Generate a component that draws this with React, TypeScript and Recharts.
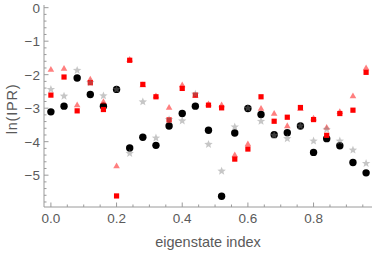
import React from 'react';
import { ScatterChart, Scatter, XAxis, YAxis } from 'recharts';

// eigenstate index positions (shared by all four series)
const xIndex = [0, 0.04, 0.08, 0.12, 0.16, 0.2, 0.24, 0.28, 0.32, 0.36, 0.4, 0.44, 0.48, 0.52, 0.56, 0.6, 0.64, 0.68, 0.72, 0.76, 0.8, 0.84, 0.88, 0.92, 0.96];

const circleVals = [-3.11, -2.94, -2.1, -2.59, -2.94, -2.44, -4.19, -3.87, -4.11, -3.53, -3.16, -2.94, -3.66, -5.63, -3.74, -3.01, -3.19, -3.79, -3.73, -3.53, -4.32, -3.91, -4.12, -4.62, -4.93];
const squareVals = [-2.61, -2.07, -3.08, -2.24, -3.04, -5.62, -1.57, -2.29, -2.66, -3.35, -2.41, -2.61, -2.91, -2.99, -4.52, -4.22, -2.66, -3.39, -3.27, -2.98, -3.34, -3.81, -3.16, -3.06, -1.93];
const triangleVals = [-1.85, -1.82, -2.91, -2.14, -2.81, -4.73, -1.55, -2.31, -2.64, -2.98, -2.31, -2.62, -2.88, -2.91, -4.4, -4.07, -3.01, -3.16, -3.53, -3.02, -3.3, -3.58, -3.11, -2.64, -1.8];
const starVals = [-2.44, -2.64, -1.87, -2.24, -2.63, -2.44, -4.35, -2.81, -3.89, -3.34, -3.38, -2.58, -4.08, -4.88, -3.56, -3, -3.39, -3.81, -3.91, -3.53, -3.98, -3.63, -3.98, -4.25, -4.65];

const xMajor = [0, 0.2, 0.4, 0.6, 0.8];
const yMajor = [0, -1, -2, -3, -4, -5];

const xTicks: number[] = [];
for (let k = 0; k <= 19; k++) xTicks.push(Math.round(k * 5) / 100);
const yTicks: number[] = [];
for (let k = 0; k <= 29; k++) yTicks.push(-Math.round(k * 20) / 100);

const toPts = (vals: number[]) => xIndex.map((x, i) => ({ x, y: vals[i] }));

const FRAME = '#9a9a9a';
const TEXT = '#5a5a5a';
const FONT = '"Liberation Sans", Arial, sans-serif';

const isMajor = (list: number[], v: number) => list.some((m) => Math.abs(m - v) < 1e-6);

const makeTick = (side: 'bottom' | 'top' | 'left' | 'right') => (props: any) => {
  const { x, y, payload } = props;
  const v = payload.value as number;
  const major = isMajor(side === 'bottom' || side === 'top' ? xMajor : yMajor, v);
  const len = major ? 4.5 : 2.5;
  if (side === 'bottom') {
    return (
      <g>
        <line x1={x} x2={x} y1={y} y2={y - len} stroke={FRAME} />
        {major && (
          <text x={x} y={y + 16} textAnchor="middle" fill={TEXT} fontSize={13.5} fontFamily={FONT}>
            {v.toFixed(1)}
          </text>
        )}
      </g>
    );
  }
  if (side === 'top') return <line x1={x} x2={x} y1={y} y2={y + len} stroke={FRAME} />;
  if (side === 'left') {
    return (
      <g>
        <line x1={x} x2={x + len} y1={y} y2={y} stroke={FRAME} />
        {major && (
          <text x={x - 4} y={y + 5} textAnchor="end" fill={TEXT} fontSize={13.5} fontFamily={FONT}>
            {v < 0 ? '\u2212' + Math.abs(v) : String(v)}
          </text>
        )}
      </g>
    );
  }
  return <line x1={x} x2={x - len} y1={y} y2={y} stroke={FRAME} />;
};

const Dot = (p: any) => <circle cx={p.cx} cy={p.cy} r={3.7} fill="#000" />;
const Sq = (p: any) => <rect x={p.cx - 2.6} y={p.cy - 2.6} width={5.2} height={5.2} fill="#ff0000" />;
const Tri = (p: any) => (
  <polygon
    points={`${p.cx},${p.cy - 3.6} ${p.cx - 3.3},${p.cy + 2.2} ${p.cx + 3.3},${p.cy + 2.2}`}
    fill="#ff0000"
    fillOpacity={0.5}
  />
);
const Star = (p: any) => {
  const pts: string[] = [];
  for (let k = 0; k < 10; k++) {
    const r = k % 2 === 0 ? 4.4 : 1.9;
    const a = -Math.PI / 2 + (k * Math.PI) / 5;
    pts.push(`${p.cx + r * Math.cos(a)},${p.cy + r * Math.sin(a)}`);
  }
  return <polygon points={pts.join(' ')} fill="#808080" fillOpacity={0.45} />;
};

const XLabel = (props: any) => {
  const { x, width } = props.viewBox;
  return (
    <text x={x + width / 2} y={247} textAnchor="middle" fill={TEXT} fontSize={14.5} fontFamily={FONT}>
      eigenstate index
    </text>
  );
};

const YLabel = (props: any) => {
  const { y, height } = props.viewBox;
  return (
    <text
      transform={`translate(17, ${y + height / 2 + 3}) rotate(-90)`}
      textAnchor="middle"
      fill={TEXT}
      fontSize={14.5}
      letterSpacing={0.8}
      fontFamily={FONT}
    >
      ln(IPR)
    </text>
  );
};

const xDomain = [-0.021, 0.978];
const yDomain = [-5.95, 0.08];

export default function App() {
  return (
    <div style={{ width: 374, height: 253 }}>
      <style>{'body{margin:0}'}</style>
      <ScatterChart width={374} height={253} margin={{ top: 5, right: 2, bottom: 0, left: 0 }}>
        <XAxis
          type="number"
          dataKey="x"
          domain={xDomain}
          allowDataOverflow
          ticks={xTicks}
          interval={0}
          height={46}
          tickSize={0}
          tickMargin={0}
          stroke={FRAME}
          tick={makeTick('bottom')}
          label={<XLabel />}
        />
        <XAxis
          xAxisId="top"
          orientation="top"
          type="number"
          dataKey="x"
          domain={xDomain}
          allowDataOverflow
          ticks={xTicks}
          interval={0}
          height={0}
          tickSize={0}
          tickMargin={0}
          stroke={FRAME}
          tick={makeTick('top')}
        />
        <YAxis
          type="number"
          dataKey="y"
          domain={yDomain}
          allowDataOverflow
          ticks={yTicks}
          interval={0}
          width={44}
          tickSize={0}
          tickMargin={0}
          stroke={FRAME}
          tick={makeTick('left')}
          label={<YLabel />}
        />
        <YAxis
          yAxisId="right"
          orientation="right"
          type="number"
          dataKey="y"
          domain={yDomain}
          allowDataOverflow
          ticks={yTicks}
          interval={0}
          width={0}
          tickSize={0}
          tickMargin={0}
          stroke={FRAME}
          tick={makeTick('right')}
        />
        <Scatter data={toPts(circleVals)} shape={Dot} isAnimationActive={false} />
        <Scatter data={toPts(squareVals)} shape={Sq} isAnimationActive={false} />
        <Scatter data={toPts(triangleVals)} shape={Tri} isAnimationActive={false} />
        <Scatter data={toPts(starVals)} shape={Star} isAnimationActive={false} />
      </ScatterChart>
    </div>
  );
}
